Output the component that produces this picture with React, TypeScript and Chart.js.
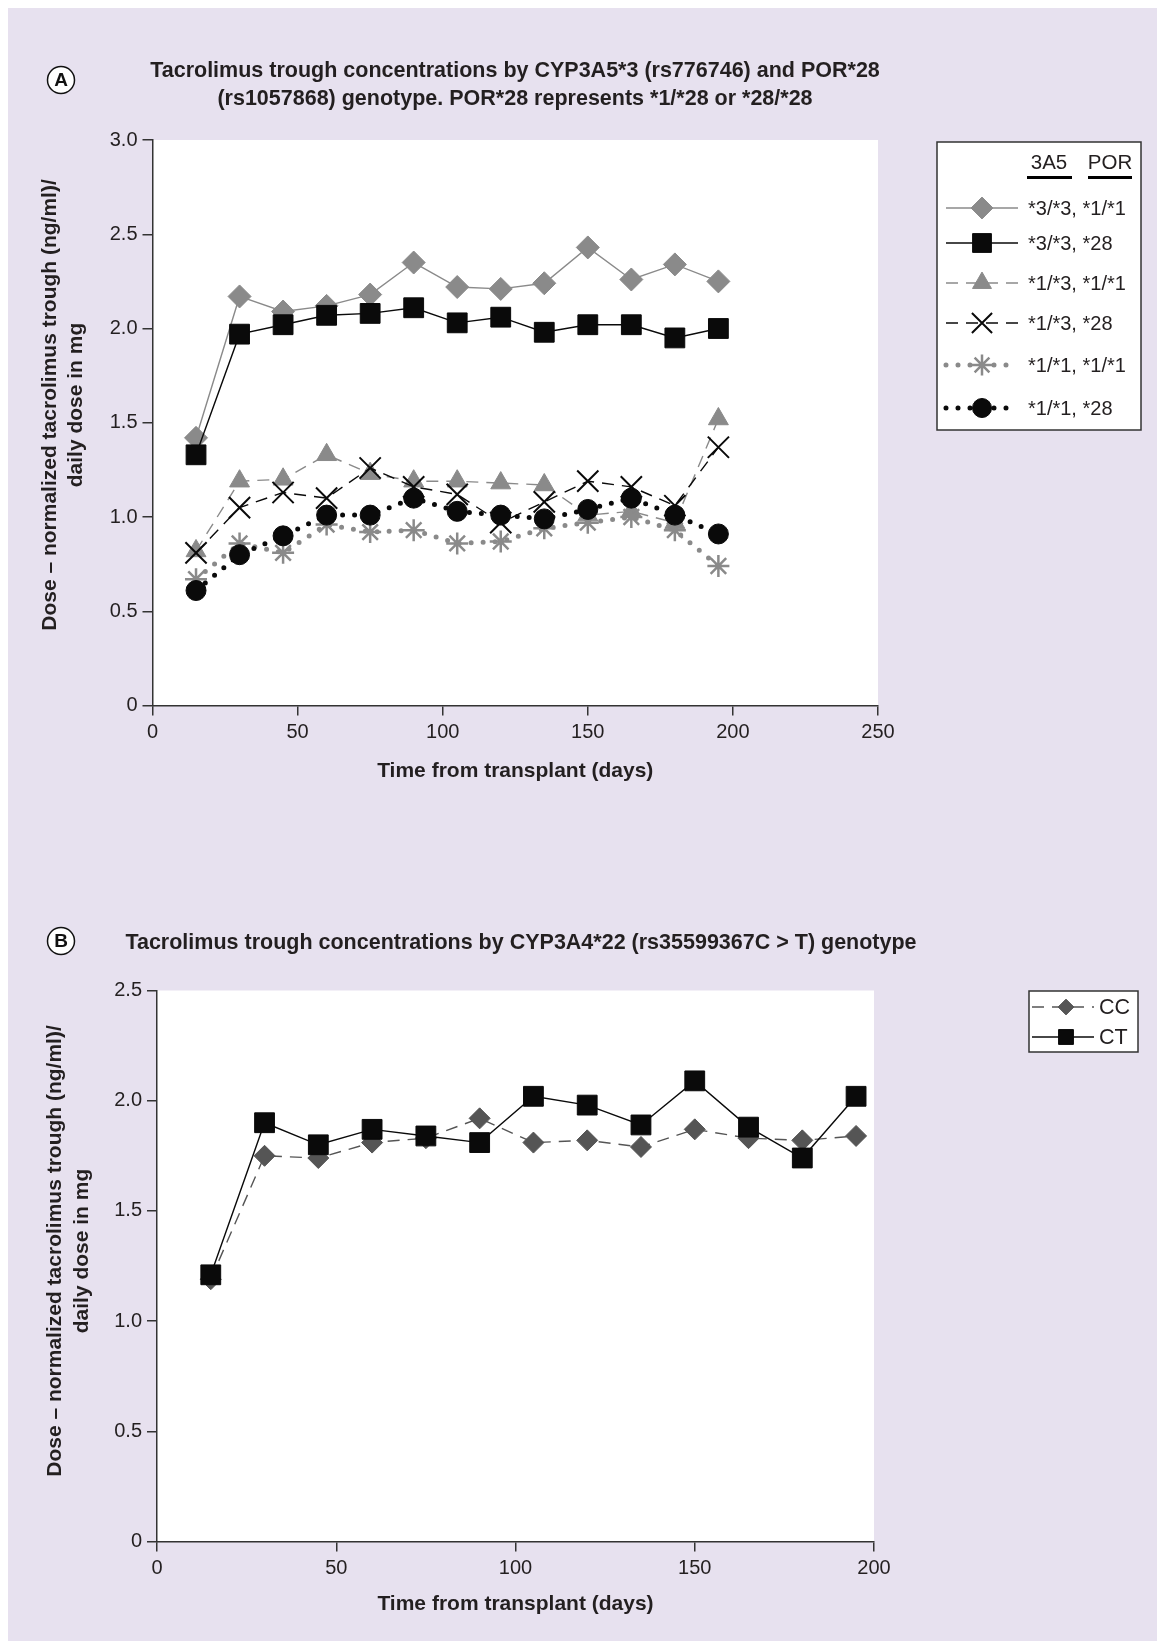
import React, { useEffect, useRef } from 'react';
import { Chart, registerables } from 'chart.js';
import { drawPoint } from 'chart.js/helpers';

Chart.register(...registerables);

// ---------- data ----------
const days = [15, 30, 45, 60, 75, 90, 105, 120, 135, 150, 165, 180, 195];

// Panel A: CYP3A5 / POR genotype groups
const a33_11 = [1.42, 2.17, 2.09, 2.12, 2.18, 2.35, 2.22, 2.21, 2.24, 2.43, 2.26, 2.34, 2.25];
const a33_28 = [1.33, 1.97, 2.02, 2.07, 2.08, 2.11, 2.03, 2.06, 1.98, 2.02, 2.02, 1.95, 2.0];
const a13_11 = [0.82, 1.19, 1.2, 1.33, 1.23, 1.19, 1.19, 1.18, 1.17, 1.01, 1.03, 0.97, 1.52];
const a13_28 = [0.81, 1.05, 1.13, 1.1, 1.26, 1.16, 1.12, 0.97, 1.08, 1.19, 1.16, 1.06, 1.37];
const a11_11 = [0.67, 0.86, 0.81, 0.96, 0.92, 0.93, 0.86, 0.87, 0.94, 0.97, 1.0, 0.93, 0.74];
const a11_28 = [0.61, 0.8, 0.9, 1.01, 1.01, 1.1, 1.03, 1.01, 0.99, 1.04, 1.1, 1.01, 0.91];
const seriesLabelsA = ['*3/*3, *1/*1', '*3/*3, *28', '*1/*3, *1/*1', '*1/*3, *28', '*1/*1, *1/*1', '*1/*1, *28'];

// Panel B: CYP3A4*22 genotype groups
const bCC = [1.19, 1.75, 1.74, 1.81, 1.83, 1.92, 1.81, 1.82, 1.79, 1.87, 1.83, 1.82, 1.84];
const bCT = [1.21, 1.9, 1.8, 1.87, 1.84, 1.81, 2.02, 1.98, 1.89, 2.09, 1.88, 1.74, 2.02];
const seriesLabelsB = ['CC', 'CT'];

// tick labels
const yTicksA = ['0', '0.5', '1.0', '1.5', '2.0', '2.5', '3.0'];
const xTicksA = ['0', '50', '100', '150', '200', '250'];
const yTicksB = ['0', '0.5', '1.0', '1.5', '2.0', '2.5'];
const xTicksB = ['0', '50', '100', '150', '200'];

const titleA = [
  'Tacrolimus trough concentrations by CYP3A5*3 (rs776746) and POR*28',
  '(rs1057868) genotype. POR*28 represents *1/*28 or *28/*28',
];
const titleB = 'Tacrolimus trough concentrations by CYP3A4*22 (rs35599367C > T) genotype';
const yTitle = ['Dose \u2013 normalized tacrolimus trough (ng/ml)/', 'daily dose in mg'];
const xTitle = 'Time from transplant (days)';

// ---------- styles ----------
const FONT = '"Liberation Sans", Arial, Helvetica, sans-serif';
const TEXT = '#231f20';
const AXIS = '#333333';
const GRAY = '#8a8a8a';
const BLACK = '#0a0a0a';
const W = 1149;

const toXY = (ys: number[]) => ys.map((y, i) => ({ x: days[i], y }));

function ds(label: string, ys: number[], o: any, i: number) {
  return {
    label,
    data: toXY(ys),
    showLine: true,
    fill: false,
    tension: 0,
    order: -i,
    borderColor: o.line,
    borderWidth: o.lw,
    borderDash: o.dash || [],
    borderCapStyle: o.cap || 'butt',
    pointStyle: o.ps,
    pointRadius: o.r,
    pointBackgroundColor: o.fill,
    pointBorderColor: o.pc,
    pointBorderWidth: o.pbw,
  };
}

const DOT = [0, 12];
const DASH = [12, 8];

const datasetsA = [
  ds(seriesLabelsA[0], a33_11, { line: GRAY, lw: 1.4, ps: 'rectRot', r: 11.5, fill: GRAY, pc: GRAY, pbw: 1 }, 0),
  ds(seriesLabelsA[1], a33_28, { line: BLACK, lw: 1.4, ps: 'rect', r: 14, fill: BLACK, pc: BLACK, pbw: 1 }, 1),
  ds(seriesLabelsA[2], a13_11, { line: GRAY, lw: 1.4, dash: DASH, ps: 'triangle', r: 11.5, fill: GRAY, pc: GRAY, pbw: 1 }, 2),
  ds(seriesLabelsA[3], a13_28, { line: BLACK, lw: 1.4, dash: DASH, ps: 'crossRot', r: 15, fill: BLACK, pc: BLACK, pbw: 2 }, 3),
  ds(seriesLabelsA[4], a11_11, { line: GRAY, lw: 5, dash: DOT, cap: 'round', ps: 'star', r: 11, fill: GRAY, pc: GRAY, pbw: 2.5 }, 4),
  ds(seriesLabelsA[5], a11_28, { line: BLACK, lw: 5, dash: DOT, cap: 'round', ps: 'circle', r: 10, fill: BLACK, pc: BLACK, pbw: 1 }, 5),
];

const DGRAY = '#555555';
const datasetsB = [
  ds(seriesLabelsB[0], bCC, { line: DGRAY, lw: 1.4, dash: DASH, ps: 'rectRot', r: 10.5, fill: DGRAY, pc: DGRAY, pbw: 1 }, 0),
  ds(seriesLabelsB[1], bCT, { line: BLACK, lw: 1.4, ps: 'rect', r: 14, fill: BLACK, pc: BLACK, pbw: 1 }, 1),
];

function scaleCommon(min: number, max: number, step: number, labels: string[], fit: (s: any) => void) {
  return {
    type: 'linear',
    min,
    max,
    afterFit: fit,
    ticks: {
      stepSize: step,
      autoSkip: false,
      maxRotation: 0,
      color: TEXT,
      font: { family: FONT, size: 20 },
      padding: 5,
      callback: (_v: any, i: number) => labels[i],
    },
    grid: { display: true, drawOnChartArea: false, drawTicks: true, tickLength: 10, color: AXIS, lineWidth: 1.5 },
    border: { display: true, color: AXIS, width: 1.5 },
  };
}

function drawSample(ctx: CanvasRenderingContext2D, d: any, x1: number, x2: number, xm: number, y: number, scale = 1) {
  ctx.save();
  ctx.strokeStyle = d.borderColor;
  ctx.lineWidth = d.borderWidth;
  ctx.setLineDash(d.borderDash || []);
  ctx.lineCap = d.borderCapStyle || 'butt';
  ctx.beginPath();
  ctx.moveTo(x1, y);
  ctx.lineTo(x2, y);
  ctx.stroke();
  ctx.restore();
  ctx.save();
  ctx.fillStyle = d.pointBackgroundColor;
  ctx.strokeStyle = d.pointBorderColor;
  ctx.lineWidth = d.pointBorderWidth;
  drawPoint(ctx, { pointStyle: d.pointStyle, radius: d.pointRadius * scale, rotation: 0, borderWidth: d.pointBorderWidth } as any, xm, y);
  ctx.restore();
}

function drawLetter(ctx: CanvasRenderingContext2D, letter: string, x: number, y: number) {
  ctx.save();
  ctx.fillStyle = '#ffffff';
  ctx.strokeStyle = '#111';
  ctx.lineWidth = 1.5;
  ctx.beginPath();
  ctx.arc(x, y, 13.5, 0, Math.PI * 2);
  ctx.fill();
  ctx.stroke();
  ctx.fillStyle = '#111';
  ctx.font = `bold 19px ${FONT}`;
  ctx.textAlign = 'center';
  ctx.textBaseline = 'middle';
  ctx.fillText(letter, x, y + 1);
  ctx.restore();
}

function drawAxisTitles(chart: any, yCenter: number, yx1: number, yx2: number, xTitleY: number) {
  const { ctx, chartArea: a } = chart;
  ctx.save();
  ctx.fillStyle = TEXT;
  ctx.font = `bold 21px ${FONT}`;
  ctx.textAlign = 'center';
  ctx.textBaseline = 'middle';
  [yx1, yx2].forEach((x, i) => {
    ctx.save();
    ctx.translate(x, yCenter);
    ctx.rotate(-Math.PI / 2);
    ctx.fillText(yTitle[i], 0, 0);
    ctx.restore();
  });
  ctx.fillText(xTitle, (a.left + a.right) / 2, xTitleY);
  ctx.restore();
}

const whiteArea = {
  id: 'whiteArea',
  beforeDraw(chart: any) {
    const { ctx, chartArea: a } = chart;
    ctx.save();
    ctx.fillStyle = '#ffffff';
    ctx.fillRect(a.left, a.top, a.right - a.left, a.bottom - a.top);
    ctx.restore();
  },
};

const decorA = {
  id: 'decorA',
  afterDraw(chart: any) {
    const ctx: CanvasRenderingContext2D = chart.ctx;
    drawLetter(ctx, 'A', 53, 72);
    ctx.save();
    ctx.fillStyle = TEXT;
    ctx.font = `bold 21.5px ${FONT}`;
    ctx.textAlign = 'center';
    ctx.textBaseline = 'middle';
    ctx.fillText(titleA[0], 507, 63.5);
    ctx.fillText(titleA[1], 507, 91);
    ctx.restore();
    drawAxisTitles(chart, 397, 42.5, 68.5, 763);

    // legend box
    ctx.save();
    ctx.fillStyle = '#ffffff';
    ctx.strokeStyle = AXIS;
    ctx.lineWidth = 1.5;
    ctx.fillRect(929, 134, 204, 288);
    ctx.strokeRect(929, 134, 204, 288);
    ctx.fillStyle = TEXT;
    ctx.font = `20.5px ${FONT}`;
    ctx.textAlign = 'center';
    ctx.textBaseline = 'middle';
    ctx.fillText('3A5', 1041, 155);
    ctx.fillText('POR', 1102, 155);
    ctx.fillStyle = '#000';
    ctx.fillRect(1019, 168, 45, 3);
    ctx.fillRect(1080, 168, 44, 3);
    ctx.restore();
    const rows = [200, 235, 275, 315, 357, 400];
    chart.data.datasets.forEach((d: any, i: number) => {
      drawSample(ctx, d, 938, 1010, 974, rows[i], 0.95);
      ctx.save();
      ctx.fillStyle = TEXT;
      ctx.font = `20px ${FONT}`;
      ctx.textAlign = 'left';
      ctx.textBaseline = 'middle';
      ctx.fillText(d.label, 1020, rows[i] + 1);
      ctx.restore();
    });
  },
};

const decorB = {
  id: 'decorB',
  afterDraw(chart: any) {
    const ctx: CanvasRenderingContext2D = chart.ctx;
    drawLetter(ctx, 'B', 53, 81);
    ctx.save();
    ctx.fillStyle = TEXT;
    ctx.font = `bold 21.5px ${FONT}`;
    ctx.textAlign = 'center';
    ctx.textBaseline = 'middle';
    ctx.fillText(titleB, 513, 83);
    ctx.restore();
    drawAxisTitles(chart, 391, 47.5, 74.5, 744);

    ctx.save();
    ctx.fillStyle = '#ffffff';
    ctx.strokeStyle = AXIS;
    ctx.lineWidth = 1.5;
    ctx.fillRect(1021, 131, 109, 61);
    ctx.strokeRect(1021, 131, 109, 61);
    ctx.restore();
    const rows = [147, 177];
    chart.data.datasets.forEach((d: any, i: number) => {
      drawSample(ctx, d, 1024, 1086, 1058, rows[i], 0.75);
      ctx.save();
      ctx.fillStyle = TEXT;
      ctx.font = `21.5px ${FONT}`;
      ctx.textAlign = 'left';
      ctx.textBaseline = 'middle';
      ctx.fillText(d.label, 1091, rows[i] + 1);
      ctx.restore();
    });
  },
};

function makeConfig(datasets: any[], yMax: number, yLabels: string[], xMax: number, xLabels: string[], lay: any, plugin: any) {
  return {
    type: 'line',
    data: { datasets },
    options: {
      responsive: false,
      animation: false,
      devicePixelRatio: 1,
      events: [],
      layout: { padding: { left: 0, right: lay.right, top: lay.top, bottom: 0 } },
      plugins: { legend: { display: false }, tooltip: { enabled: false }, title: { display: false } },
      scales: {
        x: scaleCommon(0, xMax, 50, xLabels, (s: any) => { s.height = lay.xh; }),
        y: scaleCommon(0, yMax, 0.5, yLabels, (s: any) => { s.width = lay.yw; }),
      },
    },
    plugins: [whiteArea, plugin],
  } as any;
}

export default function App() {
  const refA = useRef<HTMLCanvasElement>(null);
  const refB = useRef<HTMLCanvasElement>(null);
  useEffect(() => {
    const ca = new Chart(
      refA.current!,
      makeConfig(datasetsA, 3, yTicksA, 250, xTicksA, { right: W - 870, top: 132, xh: 820 - 697.5, yw: 144.5 }, decorA)
    );
    const cb = new Chart(
      refB.current!,
      makeConfig(datasetsB, 2.5, yTicksB, 200, xTicksB, { right: W - 866, top: 130.5, xh: 781 - 681.5, yw: 149 }, decorB)
    );
    return () => {
      ca.destroy();
      cb.destroy();
    };
  }, []);
  return (
    <div style={{ position: 'relative', width: W, height: 1633, background: '#e7e1ef' }}>
      <canvas ref={refA} width={W} height={820} style={{ position: 'absolute', left: 0, top: 0, width: W, height: 820 }} />
      <canvas ref={refB} width={W} height={781} style={{ position: 'absolute', left: 0, top: 852, width: W, height: 781 }} />
    </div>
  );
}
